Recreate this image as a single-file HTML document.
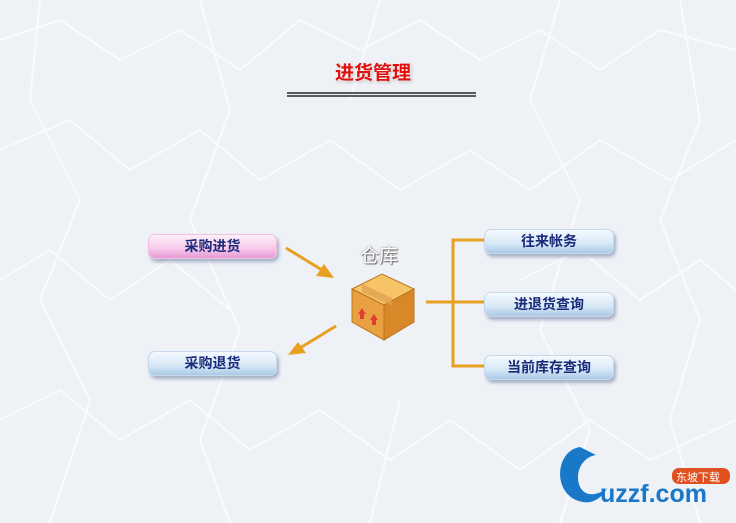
<!DOCTYPE html>
<html><head><meta charset="utf-8"><style>
body{margin:0;width:736px;height:523px;overflow:hidden;background:#eef1f6;position:relative;font-family:"Liberation Sans","Noto Sans CJK SC",sans-serif}
.b{position:absolute;height:23px;border-radius:7px;text-align:center;font-weight:bold;font-size:14px;line-height:23px;color:#1a2a7a;box-shadow:2px 3px 3px rgba(80,100,140,.45);border:1px solid #c8d8ea}
.bl{background:linear-gradient(#f4faff,#d6e8f6 60%,#a9c9e6)}
.pk{background:linear-gradient(#fff0fa,#f6c8ea 60%,#e59ad4);border-color:#f0c0e0}
.t{position:absolute;left:335px;top:58px;font-size:19px;font-weight:bold;color:#e01010;text-shadow:0 0 3px #fff,0 0 4px #fff,1px 1px 3px #888}
.ck{position:absolute;left:360px;top:241px;font-size:19px;color:#fff;text-shadow:1px 1px 1px #666,0 0 2px #888}
</style></head><body>
<svg width="736" height="523" style="position:absolute;left:0;top:0" xmlns="http://www.w3.org/2000/svg">
<g stroke="#fbfcfe" stroke-width="2" fill="none" opacity=".9">
<path d="M0 40L60 20 120 60 180 30 240 70 300 20 360 50 420 20 480 60 540 30 600 70 660 30 736 50"/>
<path d="M0 150L70 120 130 170 200 130 260 180 330 140 400 190 470 150 530 190 600 140 670 180 736 140"/>
<path d="M0 280L50 250 110 300 170 260 230 310M520 280 580 250 640 300 700 260 736 290"/>
<path d="M0 420L60 390 120 440 190 400 250 450 320 410 390 460 450 420 520 470 590 420 650 460 736 420"/>
<path d="M40 0L30 100 80 200 40 300 90 400 50 523M200 0L230 110 190 220 240 330 200 440 230 523M560 0L530 100 580 200 540 330 590 430 560 523M680 0L700 120 660 220 700 320 670 420 700 523M380 0L350 100M400 400 370 523"/>
</g>
<line x1="287" y1="93" x2="476" y2="93" stroke="#000" stroke-width="1.2"/>
<line x1="287" y1="96" x2="476" y2="96" stroke="#000" stroke-width="1.2"/>
<g stroke="#e8a020" stroke-width="3" fill="none">
<path d="M484 240H453V366H484M426 302H484"/>
<line x1="286" y1="248" x2="322" y2="270"/>
<line x1="336" y1="326" x2="300" y2="348"/>
</g>
<polygon points="334,278 316,276 324,264" fill="#e8a020"/>
<polygon points="288,355 298,342 306,353" fill="#e8a020"/>
<polygon points="352,289 382,274 414,289 384,305" fill="#f6c466" stroke="#b8761a"/>
<polygon points="352,289 384,305 384,340 352,322" fill="#e8a040" stroke="#b8761a"/>
<polygon points="384,305 414,289 414,322 384,340" fill="#d88828" stroke="#b8761a"/>
<polygon points="362,284 392,298 392,306 362,292" fill="#e0a050" opacity=".7"/>
<polygon points="358,314 362,308 366,314" fill="#e04030"/><rect x="360" y="314" width="4" height="5" fill="#e04030"/>
<polygon points="370,320 374,314 378,320" fill="#e04030"/><rect x="372" y="320" width="4" height="5" fill="#e04030"/>
<path d="M580 447c-26 4-28 50 3 55 10 2 20-5 24-14-8 7-21 10-27-1-6-14 2-30 16-32z" fill="#1a78c8"/>
<text x="600" y="502" font-size="25" font-weight="bold" fill="#1a78c8" font-family="Liberation Sans,sans-serif">uzzf.com</text>
<rect x="672" y="468" width="58" height="16" rx="7" fill="#e05020"/>
<text x="676" y="481" font-size="11" fill="#fff" font-family="Liberation Sans,Noto Sans CJK SC,sans-serif">东坡下载</text>
</svg>
<div class="t">进货管理</div>
<div class="ck">仓库</div>
<div class="b pk" style="left:148px;top:234px;width:127px">采购进货</div>
<div class="b bl" style="left:148px;top:351px;width:127px">采购退货</div>
<div class="b bl" style="left:484px;top:229px;width:128px">往来帐务</div>
<div class="b bl" style="left:484px;top:292px;width:128px">进退货查询</div>
<div class="b bl" style="left:484px;top:355px;width:128px">当前库存查询</div>
</body></html>
